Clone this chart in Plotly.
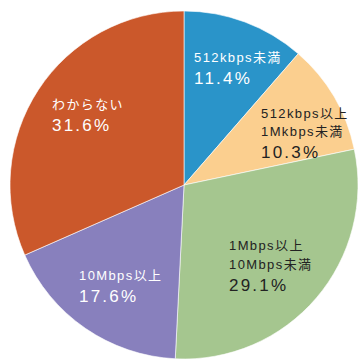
import plotly.graph_objects as go

labels = ["512kbps未満", "512kbps以上1Mkbps未満", "1Mbps以上10Mbps未満", "10Mbps以上", "わからない"]
values = [11.4, 10.3, 29.1, 17.6, 31.6]
colors = ["#2A94C9", "#FBCF8F", "#A5C68F", "#8880BD", "#CB582B"]
label_lines = [["512kbps未満"], ["512kbps以上", "1Mkbps未満"], ["1Mbps以上", "10Mbps未満"], ["10Mbps以上"], ["わからない"]]
text_colors = ["white", "#222222", "#222222", "white", "white"]

W, H = 358, 359
# label anchor positions in pixels (left x, first line y)
label_pos = [(192, 57), (259, 113), (227, 245.5), (77, 275), (50, 104)]

fig = go.Figure(go.Pie(
    labels=labels, values=values, sort=False, direction="clockwise", rotation=0,
    marker=dict(colors=colors, line=dict(color="white", width=0.6)),
    textinfo="none", hoverinfo="label+percent", showlegend=False,
    domain=dict(x=[10 / W, 1.0], y=[0, 348 / H]),
))

font_fam = "Liberation Sans, Noto Sans CJK JP, sans-serif"
for i, (lx, ly) in enumerate(label_pos):
    y = ly
    for line in label_lines[i]:
        fig.add_annotation(x=lx / W, y=1 - y / H, xref="paper", yref="paper",
                           text=f'<span style="letter-spacing:1.4px">{line}</span>',
                           showarrow=False, xanchor="left", yanchor="middle",
                           font=dict(size=13, color=text_colors[i], family=font_fam))
        y += 18.5
    fig.add_annotation(x=lx / W, y=1 - (y + 2.5) / H, xref="paper", yref="paper",
                       text=f'<span style="letter-spacing:2.2px">{values[i]:.1f}%</span>',
                       showarrow=False, xanchor="left", yanchor="middle",
                       font=dict(size=17, color=text_colors[i], family=font_fam))

fig.update_layout(width=W, height=H, margin=dict(l=0, r=0, t=0, b=0),
                  paper_bgcolor="white", plot_bgcolor="white")
fig.write_html("out.html")
